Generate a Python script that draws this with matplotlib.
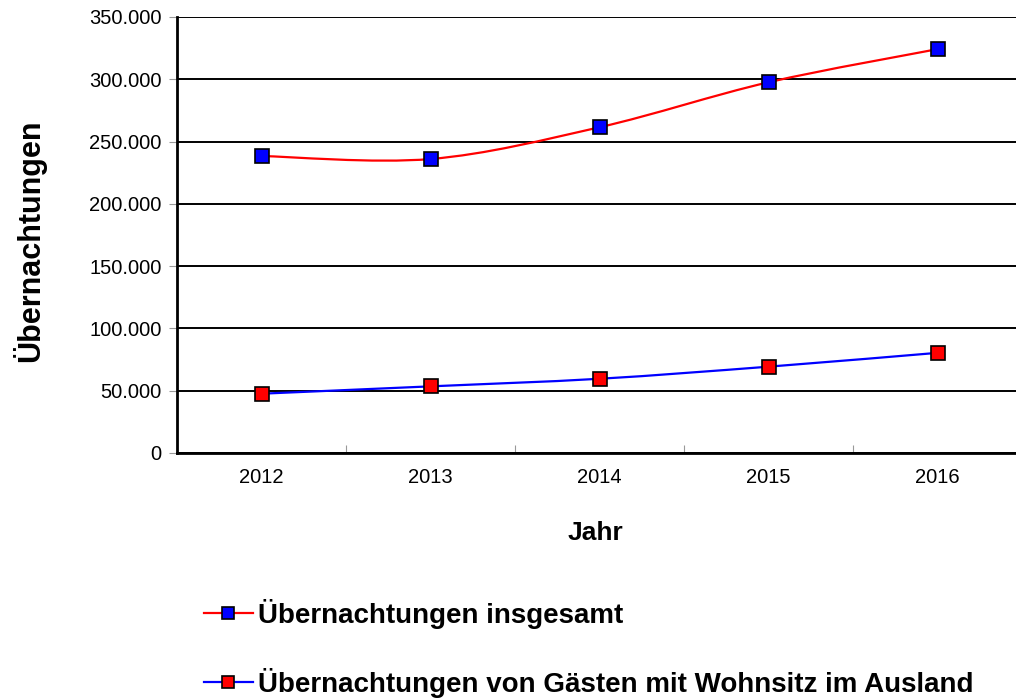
import matplotlib
matplotlib.use('Agg')
import matplotlib.pyplot as plt
import numpy as np
from matplotlib.path import Path
from matplotlib.patches import PathPatch
from matplotlib.lines import Line2D
from matplotlib.ticker import FuncFormatter, FixedLocator

plt.rcParams['font.family'] = ['Liberation Sans', 'DejaVu Sans']

# Daten
jahre = ['2012', '2013', '2014', '2015', '2016']
insgesamt = [238400, 236000, 261500, 297600, 324200]
ausland = [47600, 53500, 59600, 69300, 80400]
label_insgesamt = 'Übernachtungen insgesamt'
label_ausland = 'Übernachtungen von Gästen mit Wohnsitz im Ausland'


def smooth_path(x, y, k=1.0 / 6):
    # Bezier-Kurve durch alle Punkte (geglaettete Linie wie in Excel)
    pts = np.column_stack([x, y]).astype(float)
    verts = [pts[0]]
    codes = [Path.MOVETO]
    n = len(pts)
    for i in range(n - 1):
        p0 = pts[i - 1] if i > 0 else pts[i]
        p1 = pts[i]
        p2 = pts[i + 1]
        p3 = pts[i + 2] if i + 2 < n else pts[i + 1]
        c1 = p1 + (p2 - p0) * k
        c2 = p2 - (p3 - p1) * k
        verts += [c1, c2, p2]
        codes += [Path.CURVE4] * 3
    return Path(verts, codes)


fig = plt.figure(figsize=(10.16, 6.98), dpi=100)
ax = fig.add_axes([177 / 1016, 1 - 453 / 698, (1022 - 177) / 1016, (453 - 17) / 698])

xs = np.arange(len(jahre))
for werte, lc, mc in [(insgesamt, 'red', 'blue'), (ausland, 'blue', 'red')]:
    ax.add_patch(PathPatch(smooth_path(xs, werte), facecolor='none',
                           edgecolor=lc, lw=1.6, zorder=3))
    ax.plot(xs, werte, ls='none', marker='s', ms=9.5, mfc=mc,
            mec='black', mew=1.2, zorder=4)

ax.set_xlim(-0.5, len(jahre) - 0.5)
ax.set_ylim(0, 350000)
ax.set_yticks(np.arange(0, 350001, 50000))
ax.yaxis.set_major_formatter(FuncFormatter(
    lambda v, p: '0' if v == 0 else f'{int(v):,}'.replace(',', '.')))
ax.set_xticks(xs)
ax.set_xticklabels(jahre)
ax.xaxis.set_minor_locator(FixedLocator(np.arange(0.5, len(jahre) - 0.5, 1)))
ax.tick_params(axis='x', which='major', length=0, labelsize=14.5, pad=11)
ax.tick_params(axis='x', which='minor', direction='in', length=6,
               color='#999999', width=0.8)
ax.tick_params(axis='y', length=6, color='#999999', width=0.8,
               labelsize=14.5, pad=5)

ax.grid(axis='y', color='black', lw=1.4)
ax.set_axisbelow(True)
for s in ['top', 'right']:
    ax.spines[s].set_visible(False)
ax.spines['left'].set_linewidth(2)
ax.spines['bottom'].set_linewidth(2)

fig.text(29 / 1016, 1 - 241 / 698, 'Übernachtungen', rotation=90,
         ha='center', va='center', fontsize=22, fontweight='bold')
fig.text(595 / 1016, 1 - 533 / 698, 'Jahr', ha='center', va='center',
         fontsize=19, fontweight='bold')

handles = [
    Line2D([], [], color='red', lw=1.6, marker='s', ms=9, mfc='blue',
           mec='black', mew=1.2),
    Line2D([], [], color='blue', lw=1.6, marker='s', ms=9, mfc='red',
           mec='black', mew=1.2),
]
fig.legend(handles, [label_insgesamt, label_ausland], loc='upper left',
           bbox_to_anchor=(179 / 1016, 1 - 574 / 698), frameon=False,
           handlelength=1.76, handletextpad=0.2, labelspacing=1.4,
           prop={'weight': 'bold', 'size': 20})

fig.savefig('out.png', dpi=100)
